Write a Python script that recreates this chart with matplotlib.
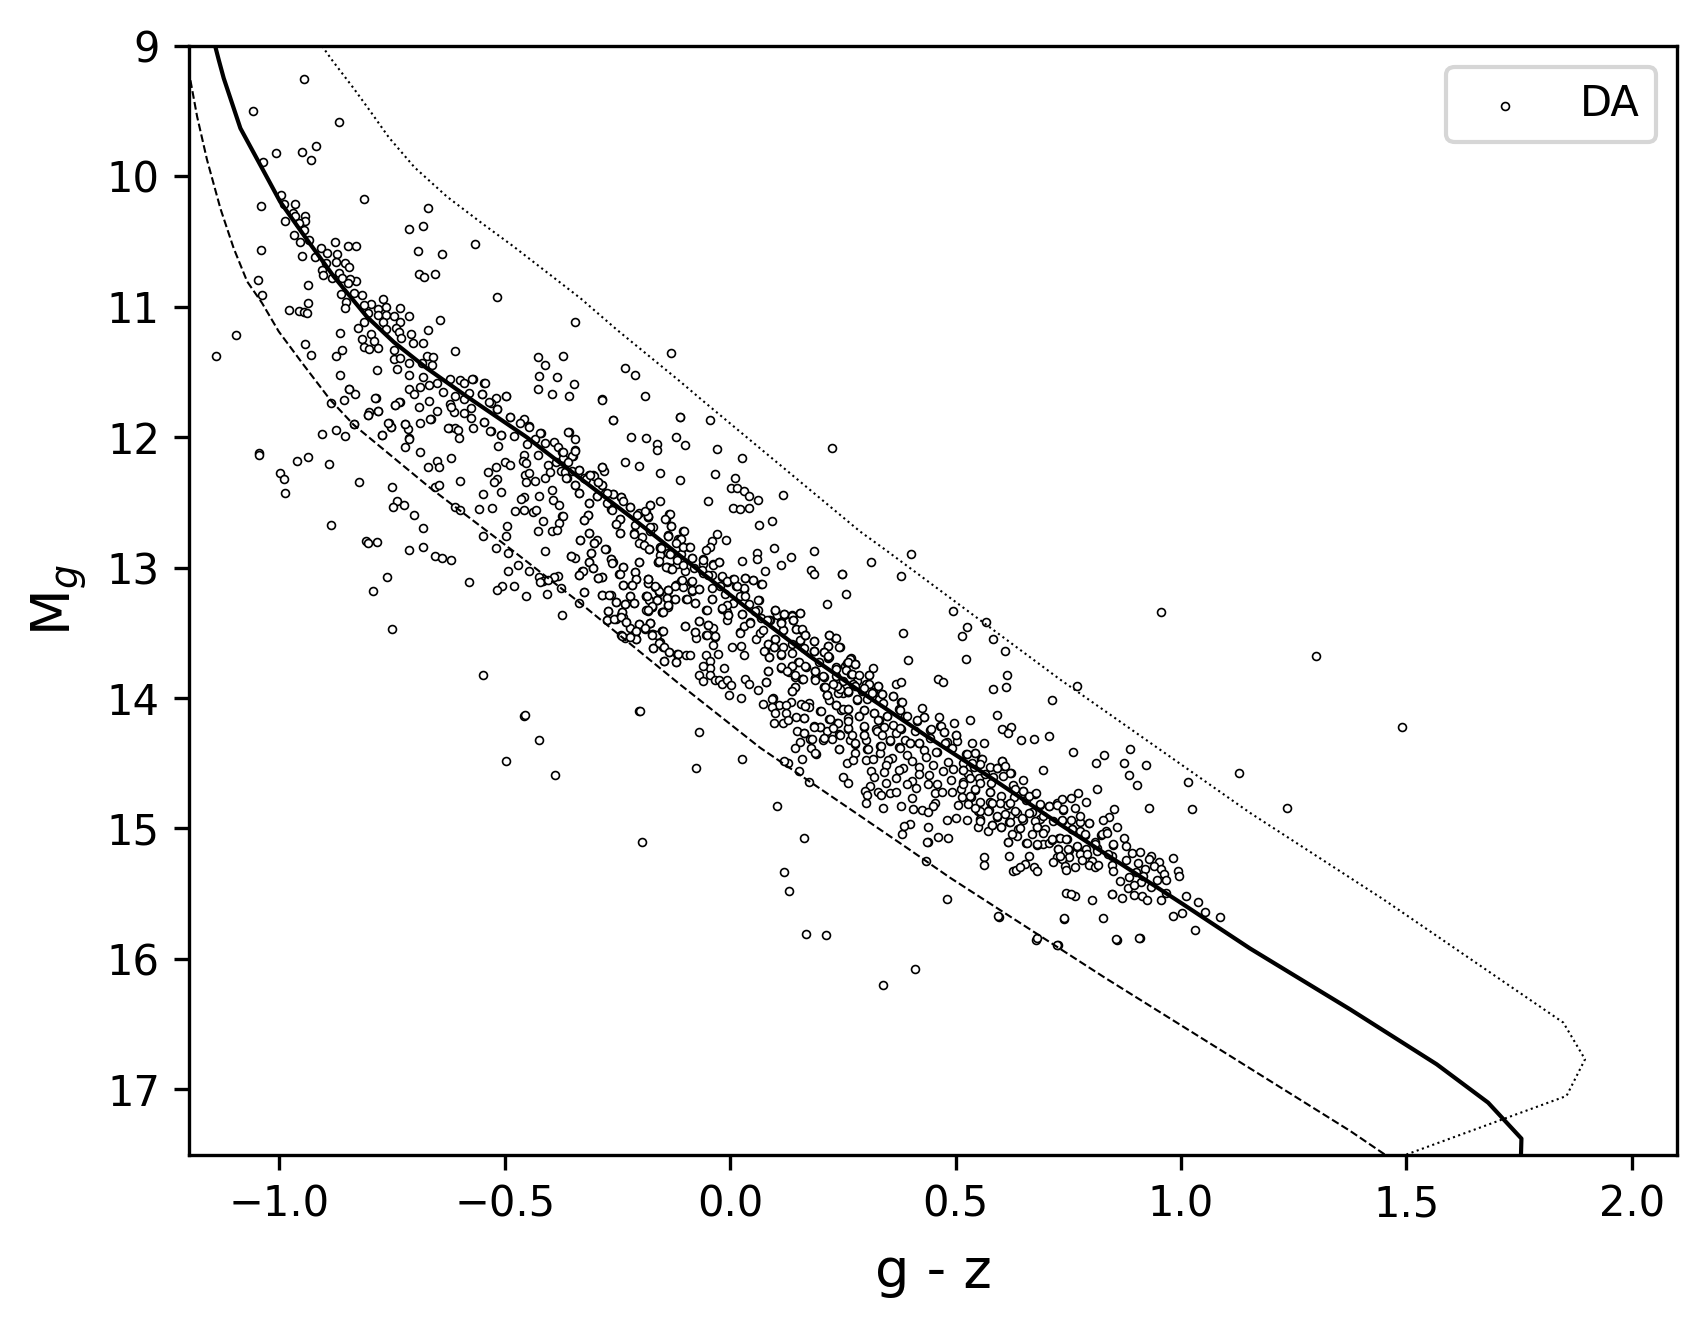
import numpy as np
import matplotlib
matplotlib.use("Agg")
import matplotlib.pyplot as plt

# cooling tracks, (g-z, M_g)
track_mid = [(-1.142,9.0),(-1.134,9.107),(-1.123,9.247),(-1.086,9.631),(-1.038,9.937),(-0.998,10.193),(-0.946,10.448),
    (-0.879,10.767),(-0.806,11.074),(-0.746,11.27),(-0.673,11.47),(-0.584,11.687),(-0.451,12.0),(-0.348,12.274),
    (-0.222,12.606),(-0.081,12.99),(0.067,13.39),(0.177,13.68),(0.288,13.948),(0.436,14.292),(0.584,14.624),
    (0.732,14.969),(0.931,15.416),(1.005,15.582),(1.153,15.92),(1.375,16.387),(1.567,16.808),(1.681,17.102),
    (1.755,17.378),(1.754,17.5)]
track_low = [(-1.21,9.1),(-1.197,9.26),(-1.182,9.541),(-1.16,9.873),(-1.13,10.25),(-1.101,10.55),(-1.071,10.806),
    (-1.038,10.971),(-1.001,11.189),(-0.949,11.431),(-0.887,11.712),(-0.835,11.904),(-0.665,12.389),(-0.48,12.875),
    (-0.333,13.27),(-0.111,13.896),(0.067,14.382),(0.392,15.148),(0.488,15.378),(0.831,16.144),(1.375,17.319),(1.452,17.5)]
track_high = [(-0.905,9.0),(-0.883,9.107),(-0.835,9.324),(-0.798,9.5),(-0.757,9.7),(-0.70,9.93),(-0.628,10.155),
    (-0.55,10.36),(-0.48,10.538),(-0.332,10.934),(-0.251,11.176),(-0.111,11.572),(-0.063,11.713),(0.288,12.722),
    (0.344,12.862),(0.732,13.858),(1.153,14.88),(1.449,15.544),(1.848,16.489),(1.896,16.77),(1.855,17.051),(1.5,17.5)]

# DA white dwarfs, split up by part of the sequence
stars_bright = [(-0.946,9.255),(-1.059,9.50),(-0.868,9.585),(-0.919,9.77),(-0.95,9.81),(-1.006,9.82),(-0.93,9.876),
    (-1.036,9.89),(-0.996,10.14),(-0.811,10.17),(-0.964,10.21),(-1.041,10.23),(-0.99,10.21),(-0.669,10.24),(-0.97,10.28),
    (-0.942,10.30),(-0.965,10.305),(-0.986,10.345),(-0.943,10.345),(-0.957,10.36),(-0.68,10.38),(-0.711,10.405),
    (-0.944,10.41),(-0.967,10.45),(-0.565,10.52),(-0.953,10.50),(-0.934,10.49),(-0.877,10.50),(-0.848,10.535),
    (-0.829,10.535),(-0.908,10.55),(-1.041,10.565),(-0.693,10.573),(-0.638,10.596),(-0.893,10.59),(-0.872,10.596),
    (-0.95,10.61),(-0.92,10.62),(-0.875,10.66),(-0.853,10.665),(-0.897,10.665),(-0.846,10.696),(-0.906,10.72),
    (-0.868,10.74),(-0.902,10.757),(-0.691,10.75),(-0.678,10.77),(-0.655,10.75),(-1.048,10.795),(-0.882,10.78),
    (-0.86,10.78),(-0.829,10.80),(-0.844,10.79),(-0.848,10.82),(-0.937,10.834),(-1.039,10.91),(-0.864,10.90),
    (-0.833,10.895),(-0.816,10.91),(-0.516,10.926),(-0.769,10.94),(-0.935,10.97),(-0.851,10.964),(-0.797,10.98),
    (-0.811,10.987),(-0.764,11.00),(-0.733,11.01),(-0.855,11.01),(-0.78,11.02),(-0.979,11.025),(-0.955,11.03),
    (-0.944,11.04),(-0.939,11.05),(-0.802,11.05),(-0.78,11.064),(-0.764,11.064),(-0.746,11.07),(-0.711,11.07),
    (-0.644,11.10),(-0.345,11.12),(-0.811,11.117),(-0.733,11.117),(-0.769,11.12),(-0.826,11.16),(-0.742,11.16),
    (-0.764,11.17),(-0.669,11.18),(-0.735,11.195),(-0.866,11.20),(-0.797,11.21),(-1.095,11.217),(-0.707,11.21),
    (-0.729,11.24),(-0.817,11.25),(-0.79,11.263),(-0.704,11.278),(-0.68,11.278),(-0.942,11.286),(-0.746,11.33),
    (-0.813,11.31),(-0.8,11.325),(-0.78,11.317),(-0.86,11.33),(-0.609,11.34),(-0.93,11.37),(-0.875,11.378),
    (-1.141,11.378),(-0.673,11.378),(-0.658,11.386),(-0.427,11.386),(-0.37,11.378),(-0.746,11.40),(-0.733,11.39),
    (-0.41,11.447),(-0.713,11.43),(-0.684,11.43),(-0.66,11.447),(-0.784,11.485),(-0.738,11.477),(-0.866,11.524),
    (-0.423,11.53),(-0.383,11.54),(-0.711,11.524),(-0.68,11.54),(-0.571,11.554),(-0.545,11.585),(-0.347,11.59),
    (-0.649,11.585),(-0.622,11.554),(-0.60,11.56),(-0.591,11.585),(-0.427,11.63),(-0.713,11.63),(-0.846,11.63),
    (-0.687,11.615),(-0.667,11.6),(-0.636,11.654),(-0.70,11.67),(-0.831,11.67),(-0.394,11.67),(-0.358,11.685),
    (-0.496,11.685),(-0.58,11.66),(-0.55,11.67),(-0.786,11.70),(-0.52,11.70),(-0.609,11.685),(-0.591,11.71),
    (-0.667,11.72),(-0.857,11.715),(-0.733,11.73),(-0.884,11.738),(-0.744,11.754),(-0.622,11.745),(-0.531,11.738),
    (-0.691,11.77),(-0.574,11.776),(-0.78,11.80),(-0.649,11.80),(-0.613,11.807),(-0.516,11.785),(-0.591,11.815),
    (-0.80,11.807),(-0.804,11.83),(-0.574,11.853),(-0.489,11.845),(-0.456,11.86),(-0.664,11.86),(-0.835,11.90),
    (-0.757,11.89),(-0.687,11.89),(-0.465,11.89),(-0.545,11.884),(-0.445,11.914),(-0.751,11.92),(-0.722,11.90),
    (-0.624,11.93),(-0.61,11.93),(-0.604,11.945),(-0.571,11.93),(-0.875,11.945),(-0.715,11.94),(-0.531,11.95),
    (-0.42,11.97),(-0.358,11.96),(-0.904,11.975),(-0.853,11.99),(-0.771,11.984),(-0.507,11.984),(-0.713,12.006),
    (-0.13,11.355),(-0.232,11.47),(-0.21,11.52),(-0.188,11.684),(-0.283,11.707),(-0.259,11.868),(-0.219,11.998),
    (-0.186,12.006),(-0.161,12.052),(-0.163,12.098),(-0.121,11.998),(-0.112,11.845),(-0.359,11.96),(-0.345,12.014),
    (-0.572,11.554),(-0.544,11.585),(-0.496,11.684),(-0.551,11.669),(-0.534,11.73),(-0.516,11.784),(-0.489,11.845),
    (-0.445,11.922),(-0.48,11.993),(-0.507,11.983),(-0.532,11.953),(-0.545,11.883),(-0.618,11.77),(-0.665,11.86),
    (-0.625,11.93),(-0.722,11.9),(-0.751,11.92),(-0.758,11.89),(-0.771,11.983),(-0.787,11.70),(-0.78,11.80),
    (-0.804,11.83),(-0.734,11.73),(-0.744,11.753),(-0.846,11.63),(-0.835,11.9)]

stars_blue = [(-0.687,12.113),(-0.722,12.075),(-0.713,12.014),(-0.602,12.006),(-0.514,12.067),(-0.937,12.15),(-0.96,12.18),
    (-0.889,12.205),(-0.649,12.18),(-0.618,12.16),(-0.669,12.228),(-0.645,12.228),(-0.538,12.267),(-0.52,12.228),
    (-0.50,12.19),(-0.489,12.213),(-0.456,12.136),(-0.46,12.18),(-0.452,12.198),(-0.403,12.213),(-0.998,12.274),
    (-0.99,12.32),(-0.988,12.427),(-1.045,12.12),(-1.044,12.14),(-0.824,12.343),(-0.749,12.382),(-0.60,12.336),(-0.654,12.382),
    (-0.645,12.366),(-0.516,12.32),(-0.523,12.343),(-0.454,12.29),(-0.445,12.274),(-0.452,12.343),(-0.432,12.336),
    (-0.41,12.313),(-0.399,12.267),(-0.507,12.42),(-0.549,12.435),(-0.423,12.45),(-0.394,12.405),(-0.456,12.458),
    (-0.463,12.474),(-0.392,12.481),(-0.379,12.52),(-0.738,12.489),(-0.724,12.52),(-0.747,12.535),(-0.702,12.596),
    (-0.609,12.535),(-0.598,12.558),(-0.556,12.55),(-0.527,12.543),(-0.478,12.565),(-0.456,12.558),(-0.438,12.573),
    (-0.43,12.558),(-0.372,12.604),(-0.316,12.596),(-0.323,12.634),(-0.416,12.642),(-0.379,12.657),(-0.886,12.673),
    (-0.68,12.696),(-0.494,12.68),(-0.547,12.757),(-0.496,12.757),(-0.425,12.719),(-0.394,12.719),(-0.383,12.711),
    (-0.312,12.734),(-0.332,12.788),(-0.296,12.788),(-0.301,12.81),(-0.808,12.795),(-0.804,12.81),(-0.784,12.803),
    (-0.713,12.864),(-0.682,12.841),(-0.52,12.849),(-0.492,12.887),(-0.41,12.872),(-0.276,12.857),(-0.654,12.91),
    (-0.64,12.926),(-0.62,12.941),(-0.352,12.91),(-0.343,12.926),(-0.308,12.887),(-0.265,12.933),(-0.259,12.956),
    (-0.312,12.956),(-0.201,12.956),(-0.47,12.979),(-0.492,13.025),(-0.447,13.025),(-0.305,13.0),(-0.328,13.025),
    (-0.334,13.056),(-0.237,12.995),(-0.21,13.033),(-0.246,13.048),(-0.76,13.071),(-0.423,13.071),(-0.416,13.102),
    (-0.421,13.11),(-0.381,13.064),(-0.39,13.071),(-0.403,13.094),(-0.294,13.079),(-0.283,13.071),(-0.208,13.087),
    (-0.58,13.11),(-0.183,13.087),(-0.181,13.117),(-0.237,13.133),(-0.217,13.133),(-0.505,13.14),(-0.518,13.17),
    (-0.48,13.14),(-0.793,13.178),(-0.374,13.156),(-0.323,13.186),(-0.163,13.156),(-0.137,13.17),(-0.157,13.186),
    (-0.121,13.133),(-0.452,13.217),(-0.405,13.2),(-0.283,13.21),(-0.265,13.21),(-0.223,13.217),(-0.186,13.217),
    (-0.139,13.232),(-0.254,13.263),(-0.212,13.27),(-0.232,13.278),(-0.163,13.248),(-0.174,13.301),(-0.137,13.286),
    (-0.334,13.27),(-0.27,13.332),(-0.183,13.332),(-0.15,13.34),(-0.239,13.34),(-0.243,13.362),(-0.237,13.378),
    (-0.372,13.362),(-0.274,13.40),(-0.254,13.393),(-0.23,13.416),(-0.201,13.432),(-0.177,13.424),(-0.749,13.47),
    (-0.223,13.462),(-0.15,13.485),(-0.172,13.508),(-0.21,13.50),(-0.243,13.516),(-0.234,13.539),(-0.208,13.546),
    (-0.155,13.57),(-0.17,13.615),(-0.148,13.608),(-0.135,13.646),(-0.117,13.661),(-0.146,13.715),(-0.119,13.723),
    (-0.547,13.822),(-0.201,14.098),(-0.456,14.136),(-0.232,12.19),(-0.201,12.218),(-0.155,12.274),(-0.112,12.328),
    (-0.155,12.489),(-0.177,12.52),(-0.135,12.589),(-0.451,12.052),(-0.432,12.014),(-0.421,11.968),(-0.41,12.044),
    (-0.39,12.037),(-0.381,12.075),(-0.372,12.113),(-0.348,12.144),(-0.343,12.1),(-0.427,12.136),(-0.37,12.159),
    (-0.385,12.19),(-0.376,12.259),(-0.367,12.267),(-0.35,12.259),(-0.334,12.251),(-0.361,12.313),(-0.345,12.366),
    (-0.334,12.428),(-0.323,12.313),(-0.314,12.29),(-0.303,12.29),(-0.283,12.228),(-0.279,12.259),(-0.294,12.343),
    (-0.283,12.366),(-0.312,12.504),(-0.296,12.45),(-0.277,12.428),(-0.259,12.435),(-0.241,12.458),(-0.265,12.55),
    (-0.245,12.627),(-0.252,12.665),(-0.245,12.734),(-0.223,12.535),(-0.203,12.58),(-0.183,12.611),(-0.21,12.673),
    (-0.212,12.734),(-0.195,12.765),(-0.179,12.857),(-0.155,12.849),(-0.143,12.627),(-0.137,12.749),(-0.115,12.78),
    (-0.159,12.956),(-0.141,12.995),(-0.13,13.0),(-0.137,12.887),(-0.117,12.926)]

stars_middle = [(-0.283,11.713),(-0.259,11.869),(-0.11,11.846),(-0.044,11.869),(0.227,12.083),(-0.101,12.06),(-0.028,12.091),
    (0.027,12.16),(-0.033,12.283),(0.01,12.313),(0.001,12.39),(0.016,12.39),(0.03,12.413),(0.041,12.451),(0.063,12.482),
    (0.118,12.444),(-0.05,12.489),(0.007,12.543),(0.021,12.551),(0.041,12.543),(0.094,12.643),(0.065,12.673),
    (-0.132,12.681),(-0.104,12.719),(-0.03,12.742),(-0.01,12.788),(-0.041,12.796),(-0.044,12.842),(-0.053,12.865),
    (0.098,12.85),(0.06,12.888),(0.06,12.934),(0.136,12.919),(0.185,12.873),(0.027,12.949),(-0.024,12.957),
    (-0.037,12.972),(-0.059,12.934),(-0.059,12.972),(0.112,12.98),(0.078,13.026),(0.18,13.018),(0.185,13.049),
    (0.249,13.049),(0.258,13.202),(0.214,13.279),(0.069,13.125),(0.05,13.095),(0.032,13.08),(0.007,13.087),
    (-0.019,13.072),(-0.006,13.11),(-0.092,12.842),(-0.104,12.842),(-0.11,12.781),(-0.137,12.758),(-0.172,12.689),
    (-0.183,12.612),(-0.206,12.597),(-0.223,12.535),(-0.241,12.459),(-0.259,12.436),(-0.283,12.229),(-0.301,12.298),
    (-0.283,12.367),(-0.296,12.451),(-0.312,12.505),(-0.316,12.597),(-0.323,12.635),(-0.37,12.604),(-0.312,12.735),
    (-0.332,12.788),(-0.301,12.811),(-0.277,12.857),(-0.308,12.888),(-0.352,12.911),(-0.312,12.957),(-0.305,13.003),
    (-0.265,12.934),(-0.261,12.965),(-0.237,12.995),(-0.201,12.957),(-0.245,13.049),(-0.327,13.026),(-0.334,13.056),
    (-0.283,13.072),(-0.294,13.08),(-0.21,13.033),(-0.208,13.087),(-0.237,13.133),(-0.217,13.133),(-0.183,13.087),
    (-0.181,13.118),(-0.166,13.148),(-0.157,13.179),(-0.121,13.133),(-0.108,13.102),(-0.105,13.15),(-0.086,13.11),
    (-0.084,13.179),(-0.07,13.164),(-0.137,13.171),(-0.139,13.233),(-0.123,13.24),(-0.137,13.302),(-0.15,13.34),
    (-0.097,13.24),(-0.077,13.271),(-0.041,13.24),(-0.053,13.325),(-0.019,13.317),(-0.006,13.34),(-0.004,13.365),
    (-0.006,13.401),(-0.323,13.187),(-0.283,13.21),(-0.268,13.21),(-0.254,13.263),(-0.223,13.217),(-0.232,13.279),
    (-0.212,13.271),(-0.186,13.217),(-0.179,13.248),(-0.163,13.248),(-0.174,13.302),(-0.186,13.325),(-0.27,13.332),
    (-0.239,13.34),(-0.274,13.401),(-0.257,13.394),(-0.243,13.378),(-0.23,13.417),(-0.201,13.432),(-0.188,13.47),
    (-0.177,13.424),(-0.174,13.509),(-0.161,13.516),(-0.15,13.486),(-0.157,13.577),(-0.146,13.608),(-0.17,13.616),
    (-0.208,13.486),(-0.208,13.547),(-0.221,13.532),(-0.239,13.524),(-0.135,13.647),(-0.115,13.662),(-0.097,13.669),
    (-0.09,13.669),(-0.146,13.715),(-0.119,13.723),(-0.099,13.447),(-0.07,13.409),(-0.05,13.44),(-0.039,13.463),
    (-0.077,13.493),(-0.075,13.539),(-0.053,13.516),(-0.033,13.532),(-0.037,13.593),(-0.026,13.662),(-0.053,13.669),
    (-0.044,13.715),(-0.044,13.769),(-0.061,13.754),(-0.07,13.823),(-0.059,13.869),(-0.044,13.823),(-0.033,13.861),
    (-0.024,13.861),(-0.019,13.892),(-0.013,13.769),(-0.006,13.861),(0.003,13.9),(-0.002,13.976),(0.005,13.608),
    (0.025,13.6),(0.03,13.669),(0.021,13.493),(0.058,13.547),(0.077,13.639),(0.085,13.792),(0.08,13.876),(0.063,13.938),
    (0.034,13.853),(0.041,13.892),(0.025,13.999),(0.096,13.999),(0.145,13.915),(0.138,13.945),(-0.371,12.114),
    (-0.35,12.145),(-0.343,12.106),(-0.359,12.19),(-0.336,12.252),(-0.363,12.313),(-0.345,12.367),(-0.334,12.428),
    (-0.319,12.321),(-0.31,12.29),(-0.294,12.344),(-0.274,12.428),(-0.272,12.505),(-0.263,12.558),(-0.245,12.627),
    (-0.252,12.666),(-0.245,12.735),(-0.237,12.49),(-0.212,12.742),(-0.186,12.574),(-0.201,12.811),(-0.179,12.857),
    (-0.155,12.842),(-0.155,12.903),(-0.159,12.957),(-0.141,12.995),(-0.13,13.01),(-0.117,12.972),(-0.101,13.026),
    (-0.084,12.926),(-0.081,13.003),(-0.108,12.896),(-0.132,12.888),(-0.059,13.041),(-0.041,13.056),(0.023,13.22),
    (0.041,13.279),(0.065,13.248),(0.061,13.325),(0.03,13.164),(0.012,13.141),(0.007,13.271),(0.027,13.355),
    (0.045,13.417),(0.069,13.386),(0.067,13.501),(0.1,13.332),(0.105,13.363),(0.089,13.402),(0.12,13.363),(0.138,13.363),
    (0.156,13.348),(0.14,13.402),(0.114,13.417),(0.118,13.478),(0.147,13.47),(0.16,13.478),(0.167,13.516),(0.1,13.547),
    (0.085,13.585),(0.098,13.608),(0.087,13.685),(0.114,13.669),(0.138,13.585),(0.154,13.562),(0.187,13.562),(0.22,13.516),
    (0.233,13.539),(0.243,13.608),(0.218,13.6),(0.209,13.647),(0.185,13.639),(0.218,13.693),(0.169,13.761),(0.151,13.723),
    (0.138,13.754),(0.112,13.769),(0.131,13.8),(0.143,13.838),(0.16,13.853),(0.189,13.792),(0.189,13.846),(0.209,13.838),
    (0.209,13.915),(0.214,13.976),(0.234,13.769),(0.238,13.907),(0.254,13.754),(0.269,13.693),(0.276,13.738),(0.269,13.815),
    (0.251,13.96),(0.262,13.953)]

stars_red = [(0.402,12.895),(0.313,12.956),(0.378,13.064),(0.249,13.048),(0.495,13.332),(0.568,13.416),(0.526,13.455),
    (0.515,13.524),(0.582,13.547),(0.61,13.638),(0.384,13.5),(0.395,13.707),(0.524,13.7),(0.46,13.853),(0.473,13.876),
    (0.615,13.822),(0.613,13.914),(0.584,13.93),(0.715,14.014),(0.369,13.891),(0.378,13.88),(0.593,14.129),(0.531,14.167),
    (0.497,14.19),(0.602,14.236),(0.622,14.221),(0.617,14.267),(0.646,14.32),(0.673,14.313),(0.708,14.29),(0.564,14.343),
    (0.537,14.343),(0.695,14.55),(0.105,14.826),(0.163,15.071),(0.382,15.041),(0.398,14.964),(0.44,14.987),(0.438,15.102),
    (0.462,15.064),(0.484,15.071),(0.617,15.102),(0.657,15.11),(0.48,14.934),(0.5,14.918),(0.526,14.934),(0.129,14.497),
    (0.152,14.558),(0.174,14.642),(0.16,14.466),(0.251,14.604),(0.262,14.65),(0.26,14.497),(0.156,13.347),(0.1,13.324),
    (0.12,13.355),(0.138,13.37),(0.087,13.401),(0.114,13.416),(0.14,13.401),(0.118,13.478),(0.147,13.47),(0.16,13.47),
    (0.1,13.547),(0.154,13.554),(0.167,13.516),(0.22,13.516),(0.234,13.539),(0.187,13.562),(0.085,13.585),(0.118,13.608),
    (0.098,13.608),(0.218,13.6),(0.242,13.608),(0.076,13.638),(0.114,13.661),(0.138,13.654),(0.185,13.638),(0.209,13.646),
    (0.087,13.684),(0.152,13.723),(0.22,13.684),(0.267,13.7),(0.26,13.73),(0.276,13.738),(0.114,13.761),(0.138,13.753),
    (0.198,13.723),(0.234,13.761),(0.318,13.769),(0.085,13.792),(0.127,13.792),(0.189,13.792),(0.256,13.784),(0.269,13.815),
    (0.309,13.822),(0.282,13.83),(0.143,13.822),(0.16,13.853),(0.189,13.845),(0.234,13.83),(0.251,13.868),(0.282,13.868),
    (0.08,13.876),(0.209,13.914),(0.238,13.907),(0.273,13.891),(0.302,13.891),(0.327,13.907),(0.145,13.914),(0.138,13.945),
    (0.24,13.96),(0.262,13.953),(0.293,13.945),(0.316,13.953),(0.338,13.968),(0.362,13.983),(0.214,13.976),(0.331,14.006),
    (0.136,14.029),(0.094,14.006),(0.158,14.045),(0.176,14.037),(0.174,14.068),(0.22,14.014),(0.282,14.014),(0.304,14.006),
    (0.38,14.029),(0.109,14.052),(0.092,14.068),(0.123,14.052),(0.234,14.052),(0.262,14.083),(0.296,14.09),(0.32,14.114),
    (0.349,14.137),(0.375,14.083),(0.426,14.075),(0.2,14.098),(0.1,14.114),(0.125,14.114),(0.245,14.09),(0.074,14.045),
    (0.098,14.19),(0.118,14.19),(0.129,14.167),(0.147,14.144),(0.163,14.152),(0.285,14.137),(0.22,14.16),(0.262,14.152),
    (0.331,14.167),(0.389,14.137),(0.431,14.144),(0.464,14.144),(0.415,14.175),(0.236,14.19),(0.2,14.221),(0.185,14.213),
    (0.262,14.236),(0.298,14.221),(0.324,14.236),(0.342,14.221),(0.378,14.236),(0.444,14.244),(0.466,14.213),(0.149,14.251),
    (0.165,14.267),(0.216,14.251),(0.242,14.274),(0.296,14.282),(0.367,14.267),(0.409,14.251),(0.475,14.259),(0.502,14.282),
    (0.178,14.313),(0.207,14.32),(0.227,14.313),(0.265,14.32),(0.302,14.32),(0.355,14.328),(0.389,14.32),(0.42,14.343),
    (0.444,14.305),(0.48,14.336),(0.504,14.328),(0.156,14.336),(0.145,14.382),(0.18,14.382),(0.242,14.39),(0.278,14.351),
    (0.304,14.39),(0.333,14.366),(0.375,14.374),(0.4,14.343),(0.429,14.397),(0.458,14.412),(0.493,14.382),(0.19,14.428),
    (0.278,14.42),(0.333,14.42),(0.36,14.458),(0.393,14.435),(0.435,14.45),(0.524,14.428),(0.544,14.42),(0.273,14.474),
    (0.302,14.474),(0.318,14.466),(0.351,14.474),(0.404,14.482),(0.484,14.489),(0.517,14.497),(0.557,14.466),(0.602,14.482),
    (0.313,14.558),(0.345,14.512),(0.384,14.535),(0.418,14.527),(0.449,14.512),(0.495,14.543),(0.517,14.55),(0.54,14.527),
    (0.577,14.527),(0.593,14.535),(0.608,14.522),(0.342,14.566),(0.375,14.55),(0.418,14.581),(0.473,14.558),(0.528,14.581),
    (0.622,14.573),(0.32,14.604),(0.369,14.612),(0.404,14.635),(0.442,14.589),(0.491,14.627),(0.553,14.612),(0.582,14.604),
    (0.65,14.627),(0.345,14.65),(0.393,14.658),(0.438,14.658),(0.458,14.658),(0.517,14.642),(0.628,14.665),(0.311,14.673),
    (0.413,14.688),(0.511,14.696),(0.544,14.704),(0.577,14.719),(0.65,14.711),(0.677,14.734),(0.3,14.711),(0.327,14.719),
    (0.355,14.727),(0.369,14.719),(0.455,14.727),(0.471,14.719),(0.493,14.719),(0.6,14.749),(0.63,14.757),(0.304,14.742),
    (0.335,14.742),(0.404,14.765),(0.515,14.757),(0.535,14.757),(0.657,14.78),(0.302,14.803),(0.455,14.803),(0.449,14.826),
    (0.506,14.819),(0.555,14.796),(0.577,14.796),(0.615,14.819),(0.688,14.819),(0.708,14.826),(0.724,14.803),(0.34,14.842),
    (0.378,14.826),(0.406,14.849),(0.426,14.857),(0.438,14.872),(0.55,14.864),(0.575,14.857),(0.637,14.88),(0.67,14.872),
    (0.591,14.911),(0.555,14.926),(0.62,14.903),(0.65,14.934),(0.688,14.926),(0.55,14.987),(0.58,14.972),(0.6,14.987),
    (0.619,14.949),(0.639,15.002),(0.681,14.987),(0.699,15.002),(0.571,15.018),(0.637,15.056),(0.695,15.117),(0.681,15.125),
    (0.708,15.11)]

stars_faint = [(0.77,13.906),(0.888,14.39),(0.761,14.412),(0.83,14.435),(0.812,14.497),(0.874,14.497),(0.923,14.512),
    (0.885,14.589),(1.016,14.642),(1.129,14.573),(0.903,14.665),(0.814,14.696),(0.928,14.841),(1.025,14.849),(0.79,14.795),
    (0.772,14.726),(0.852,14.849),(0.841,14.91),(0.828,14.933),(0.857,14.987),(0.983,15.225),(0.994,15.324),(0.996,15.362),
    (0.562,15.217),(0.564,15.278),(0.619,15.21),(0.664,15.21),(0.655,15.27),(0.673,15.293),(0.681,15.324),(0.628,15.324),
    (0.633,15.317),(0.644,15.293),(0.746,15.493),(0.764,15.516),(0.803,15.546),(0.846,15.5),(0.87,15.531),(0.896,15.508),
    (0.914,15.516),(0.925,15.546),(0.956,15.546),(0.967,15.493),(1.01,15.516),(1.038,15.562),(0.983,15.669),(1.003,15.646),
    (1.054,15.638),(1.087,15.677),(1.032,15.776),(0.597,15.677),(0.741,15.692),(0.826,15.684),(0.857,15.853),(0.91,15.838),
    (0.679,15.853),(0.728,15.891),(0.735,14.772),(0.757,14.765),(0.766,14.841),(0.739,14.857),(0.735,14.941),(0.757,14.933),
    (0.775,14.949),(0.797,14.956),(0.759,15.002),(0.788,15.048),(0.823,15.048),(0.834,15.018),(0.73,15.071),(0.748,15.079),
    (0.777,15.018),(0.715,15.087),(0.77,15.14),(0.81,15.102),(0.85,15.125),(0.874,15.071),(0.879,15.133),(0.728,15.156),
    (0.752,15.163),(0.79,15.156),(0.814,15.148),(0.724,15.217),(0.752,15.217),(0.777,15.194),(0.846,15.21),(0.892,15.186),
    (0.91,15.178),(0.934,15.21),(0.717,15.255),(0.735,15.232),(0.781,15.24),(0.803,15.247),(0.879,15.24),(0.928,15.232),
    (0.952,15.255),(0.743,15.286),(0.766,15.293),(0.797,15.278),(0.81,15.293),(0.817,15.278),(0.846,15.278),(0.905,15.263),
    (0.941,15.286),(0.746,15.317),(0.85,15.324),(0.901,15.332),(0.921,15.309),(0.956,15.309),(0.963,15.347),(0.865,15.401),
    (0.885,15.37),(0.912,15.408),(0.947,15.393),(0.967,15.393),(0.916,15.362),(0.883,15.454),(0.896,15.431),(0.934,15.447)]

stars_scattered = [(0.955,13.34),(1.30,13.68),(1.49,14.22),(1.235,14.84),(0.34,16.2),(0.41,16.08),(0.13,15.48),(0.12,15.33),
    (0.168,15.81),(0.212,15.82),(-0.195,15.1),(-0.2,14.1),(-0.455,14.13),(-0.423,14.32),(-0.497,14.48),(-0.388,14.59),
    (-0.075,14.54),(-0.068,14.26),(0.027,14.47),(0.12,14.48),(0.385,14.98),(0.435,15.25),(0.437,15.1),(0.48,15.54),
    (0.595,15.67),(0.68,15.84),(0.725,15.89),(0.74,15.69),(0.757,15.5),(0.855,15.85),(0.907,15.84),(0.847,15.5)]

# second pass over the densest stretches of the band
stars_band_a = [(0.262,13.723),(0.277,13.738),(0.27,13.812),(0.285,13.82),(0.309,13.82),(0.327,13.909),(0.307,13.889),
    (0.338,13.968),(0.362,13.986),(0.381,14.032),(0.377,14.088),(0.34,14.037),(0.314,13.96),(0.296,13.922),(0.277,13.909),
    (0.262,13.947),(0.244,13.93),(0.238,13.909),(0.229,13.896),(0.211,13.914),(0.214,13.973),(0.234,14.055),(0.25,14.083),
    (0.262,14.083),(0.282,14.006),(0.296,14.088),(0.285,14.139),(0.319,14.118),(0.349,14.139),(0.329,14.17),(0.296,14.216),
    (0.262,14.228),(0.262,14.177),(0.24,14.19),(0.222,14.157),(0.2,14.221),(0.229,14.228),(0.244,14.28),(0.27,14.287),
    (0.296,14.28),(0.325,14.254),(0.336,14.287),(0.362,14.203),(0.377,14.228),(0.392,14.139),(0.414,14.17),(0.43,14.144),
    (0.445,14.241),(0.467,14.216),(0.399,14.343),(0.42,14.348),(0.377,14.382),(0.355,14.318),(0.334,14.369),(0.305,14.389),
    (0.276,14.343),(0.242,14.389),(0.208,14.305),(0.181,14.313),(0.163,14.267),(0.186,14.221),(0.166,14.062),(0.201,14.1),
    (0.163,14.152),(0.188,14.425),(0.456,14.415),(0.474,14.262),(0.5,14.28),(0.477,14.343),(0.208,13.649),(0.185,13.641),
    (0.163,13.615),(0.166,13.756),(0.188,13.789),(0.161,13.853),(0.207,13.832),(0.235,13.774),(0.218,13.679),(0.188,13.858),
    (0.166,13.513)]

stars_band_b = [(0.543,14.42),(0.525,14.432),(0.558,14.466),(0.554,14.509),(0.536,14.496),(0.517,14.552),(0.532,14.611),
    (0.554,14.655),(0.543,14.701),(0.517,14.662),(0.532,14.752),(0.554,14.867),(0.528,14.816),(0.543,14.841),(0.577,14.721),
    (0.578,14.65),(0.565,14.586),(0.591,14.535),(0.602,14.484),(0.61,14.522),(0.621,14.573),(0.606,14.598),(0.632,14.701),
    (0.65,14.713),(0.662,14.752),(0.679,14.731),(0.687,14.816),(0.708,14.828),(0.724,14.823),(0.739,14.854),(0.621,14.803),
    (0.599,14.803),(0.58,14.803),(0.573,14.867),(0.591,14.905),(0.61,14.892),(0.632,14.867),(0.647,14.918),(0.662,14.879),
    (0.676,14.943),(0.695,14.905),(0.717,14.943),(0.735,14.936),(0.758,15.007),(0.776,14.905),(0.797,14.956),(0.554,14.943),
    (0.58,14.977),(0.6,14.987),(0.621,14.951),(0.643,14.994),(0.625,15.045),(0.658,15.109),(0.617,15.104),(0.681,14.987),
    (0.693,15.033),(0.669,15.045),(0.713,15.084),(0.68,15.122),(0.732,15.071),(0.746,15.079),(0.728,15.16),(0.769,15.135),
    (0.75,15.16),(0.787,15.045),(0.809,15.122),(0.824,15.045),(0.835,15.033),(0.85,15.122),(0.839,15.199),(0.791,15.199),
    (0.813,15.173),(0.732,15.211)]

stars_band_c = [(-0.183,12.607),(-0.188,12.569),(-0.177,12.518),(-0.134,12.587),(-0.144,12.627),(-0.132,12.678),(-0.103,12.717),
    (-0.137,12.755),(-0.109,12.781),(-0.12,12.811),(-0.104,12.845),(-0.09,12.845),(-0.154,12.85),(-0.133,12.893),(-0.157,12.952),
    (-0.142,12.995),(-0.129,13.008),(-0.117,12.939),(-0.104,12.977),(-0.085,12.926),(-0.177,12.722),(-0.192,12.824),
    (-0.179,12.857),(-0.177,12.689),(-0.059,12.939),(-0.037,12.977),(-0.024,12.957),(-0.063,13.021),(-0.048,13.054),
    (-0.018,13.067),(-0.006,13.105),(0.009,13.087),(0.033,13.08),(0.05,13.097),(0.07,13.125),(0.03,13.156),(0.015,13.143),
    (-0.022,13.143),(-0.041,13.156),(-0.085,13.105),(-0.107,13.097),(-0.122,13.138),(-0.137,13.169),(-0.166,13.143),
    (-0.183,13.085),(-0.085,13.169),(-0.07,13.164),(-0.011,13.199),(0.033,13.22),(0.063,13.246),(-0.007,13.284),(-0.041,13.24),
    (-0.096,13.24),(-0.122,13.24),(-0.14,13.233),(-0.163,13.246),(-0.185,13.215),(-0.174,13.297),(-0.137,13.284),(-0.078,13.271),
    (-0.018,13.309),(-0.004,13.361),(0.026,13.355),(-0.052,13.322),(-0.149,13.34),(-0.183,13.327),(0.055,13.335),(0.081,13.399),
    (0.1,13.322),(0.12,13.355),(0.14,13.399),(-0.1,13.445),(-0.07,13.412),(-0.048,13.437),(-0.177,13.424),(-0.188,13.463),
    (-0.149,13.488),(-0.078,13.496),(-0.052,13.514),(-0.033,13.527),(0.022,13.501),(-0.174,13.514),(0.03,13.45),(0.044,13.424),
    (0.074,13.475),(0.114,13.424)]

xticks = [-1.0, -0.5, 0.0, 0.5, 1.0, 1.5, 2.0]
yticks = [9, 10, 11, 12, 13, 14, 15, 16, 17]

stars = np.array(stars_bright + stars_blue + stars_middle + stars_red + stars_faint + stars_scattered
                 + stars_band_a + stars_band_b + stars_band_c)
mid = np.array(track_mid)
low = np.array(track_low)
high = np.array(track_high)

fig = plt.figure(figsize=(1706 / 300, 1325 / 300), dpi=300)
ax = fig.add_axes([189 / 1706, 1 - 1154.5 / 1325, (1677 - 189) / 1706, (1154.5 - 46) / 1325])

ax.scatter(stars[:, 0], stars[:, 1], s=3.6, c="white", edgecolors="k", linewidths=0.4, label="DA")
ax.plot(mid[:, 0], mid[:, 1], "k-", lw=1)
ax.plot(low[:, 0], low[:, 1], "k--", lw=0.5)
ax.plot(high[:, 0], high[:, 1], "k:", lw=0.5)

ax.set_xlim(-1.2, 2.1)
ax.set_ylim(17.5, 9)
ax.set_xticks(xticks)
ax.set_yticks(yticks)
ax.set_xlabel("g - z", fontsize=13, labelpad=5)
ax.set_ylabel("M$_g$", fontsize=13)
ax.legend(loc="upper right")

fig.savefig("out.png", dpi=300)
